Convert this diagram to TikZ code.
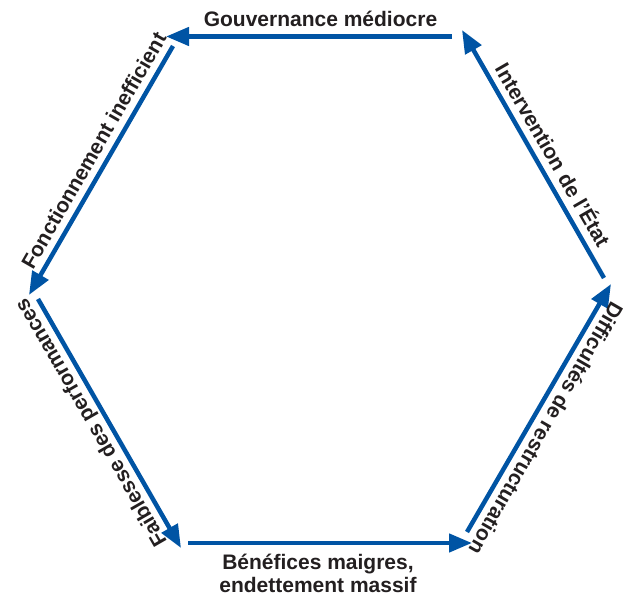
\documentclass[tikz,border=0pt]{standalone}
\usepackage{fontspec}
\setmainfont{Liberation Sans}
\usetikzlibrary{arrows.meta,calc}
\definecolor{arrowblue}{RGB}{0,84,164}
\definecolor{txt}{RGB}{35,31,32}
\begin{document}
\begin{tikzpicture}[x=1pt,y=1pt,
  cyc/.style={line width=4.5pt, draw=arrowblue, -{Triangle[length=23pt,width=18pt]}},
  lab/.style={inner sep=0pt, anchor=base, text=txt, font=\fontsize{21}{23}\selectfont\bfseries}]
\useasboundingbox (0,0) rectangle (624,599);
% arrow end points
\coordinate (a1s) at (452,562.5);
\coordinate (a1e) at (166,562.5);
\coordinate (a2s) at (173,553);
\coordinate (a2e) at (29,304);
\coordinate (a3s) at (38,300);
\coordinate (a3e) at (181,51);
\coordinate (a4s) at (188,56);
\coordinate (a4e) at (472,56);
\coordinate (a5s) at (467,67);
\coordinate (a5e) at (611,315);
\coordinate (a6s) at (604,321);
\coordinate (a6e) at (462,569);
% arrows
\draw[cyc] (a1s) -- (a1e);
\draw[cyc] (a2s) -- (a2e);
\draw[cyc] (a3s) -- (a3e);
\draw[cyc] (a4s) -- (a4e);
\draw[cyc] (a5s) -- (a5e);
\draw[cyc] (a6s) -- (a6e);
% labels
\node[lab] (l1) at (320.5,572) {Gouvernance médiocre};
\node[lab, rotate=60] (l2) at ($(a2e)!0.548!(a2s)+(150:9pt)$) {Fonctionnement inefficient};
\node[lab, rotate=120] (l3) at ($(a3e)!0.535!(a3s)+(210:9pt)$) {Faiblesse des performances};
\node[lab] (l4) at (318,29) {\begin{tabular}[t]{@{}c@{}}Bénéfices maigres,\\endettement massif\end{tabular}};
\node[lab, rotate=-120] (l5) at ($(a5e)!0.55!(a5s)+(-30:9pt)$) {Difficultés de restructuration};
\node[lab, rotate=-60] (l6) at ($(a6e)!0.538!(a6s)+(30:9pt)$) {Intervention de l'État};
\end{tikzpicture}
\end{document}
